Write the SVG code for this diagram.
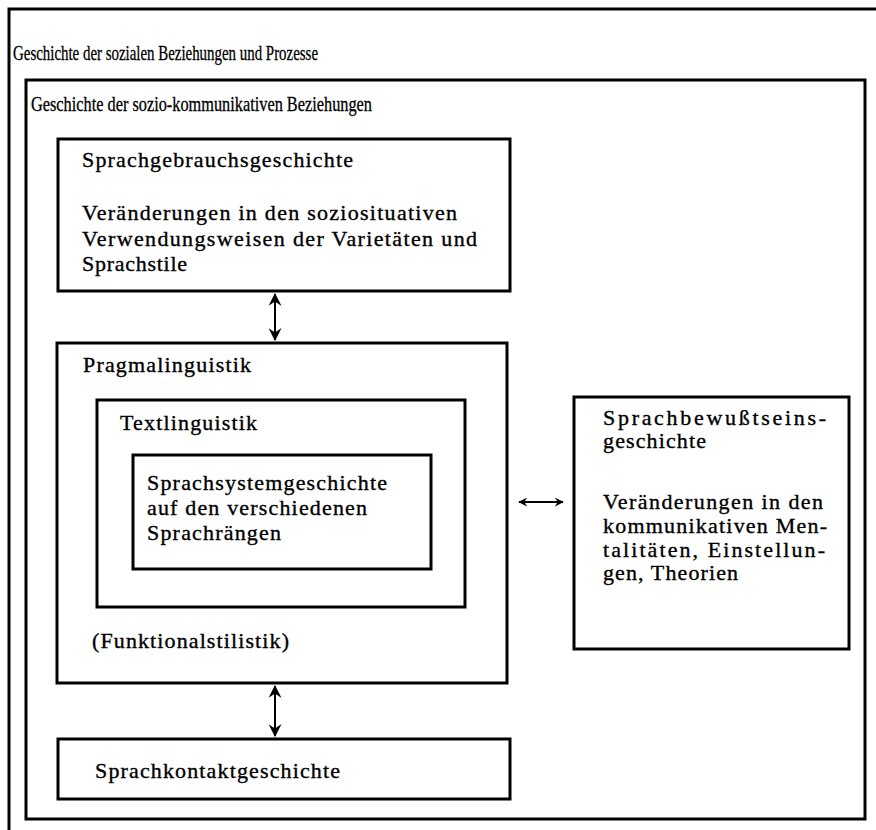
<svg xmlns="http://www.w3.org/2000/svg" width="876" height="830" viewBox="0 0 876 830">
<style>
.box{fill:none;stroke:#000;stroke-width:3}
.t{font-family:"Liberation Serif","Times New Roman",serif;font-size:22px;fill:#000;stroke:#000;stroke-width:0.35}
.h{font-family:"Liberation Serif","Times New Roman",serif;font-size:21px;fill:#000;stroke:#000;stroke-width:0.3}
.c{stroke:#000;stroke-width:2;fill:none}
</style>
<defs>
<marker id="ah" viewBox="0 0 12 12" refX="11" refY="6" markerWidth="13" markerHeight="13" markerUnits="userSpaceOnUse" orient="auto-start-reverse">
<path d="M0,0 L12,6 L0,12 L4,6 z" fill="#000"/>
</marker>
<marker id="ahs" viewBox="0 0 12 12" refX="11" refY="6" markerWidth="9" markerHeight="9" markerUnits="userSpaceOnUse" orient="auto-start-reverse">
<path d="M0,0 L12,6 L0,12 L4,6 z" fill="#000"/>
</marker>
</defs>
<rect width="876" height="830" fill="#fff"/>
<g id="outer">
<path class="box" d="M880,9 L9,9 L9,835"/>
<text class="h" x="13" y="60" textLength="305" lengthAdjust="spacingAndGlyphs">Geschichte der sozialen Beziehungen und Prozesse</text>
</g>
<g id="sozio">
<rect class="box" x="26" y="80" width="839" height="739"/>
<text class="h" x="31" y="111" textLength="341" lengthAdjust="spacingAndGlyphs">Geschichte der sozio-kommunikativen Beziehungen</text>
</g>
<g id="sprachgebrauch">
<rect class="box" x="58" y="139" width="452" height="152"/>
<text class="t" x="82" y="167" textLength="271" lengthAdjust="spacing">Sprachgebrauchsgeschichte</text>
<text class="t" x="82" y="220" textLength="375" lengthAdjust="spacing">Veränderungen in den soziosituativen</text>
<text class="t" x="82" y="246" textLength="395" lengthAdjust="spacing">Verwendungsweisen der Varietäten und</text>
<text class="t" x="82" y="271" textLength="105" lengthAdjust="spacing">Sprachstile</text>
</g>
<g id="pragmalinguistik">
<rect class="box" x="57" y="343" width="450" height="340"/>
<text class="t" x="83" y="372" textLength="168" lengthAdjust="spacing">Pragmalinguistik</text>
<text class="t" x="92" y="648" textLength="197" lengthAdjust="spacing">(Funktionalstilistik)</text>
</g>
<g id="textlinguistik">
<rect class="box" x="97" y="400" width="368" height="207"/>
<text class="t" x="120" y="430" textLength="137" lengthAdjust="spacing">Textlinguistik</text>
</g>
<g id="sprachsystem">
<rect class="box" x="133" y="455" width="298" height="114"/>
<text class="t" x="147" y="490" textLength="240" lengthAdjust="spacing">Sprachsystemgeschichte</text>
<text class="t" x="147" y="515" textLength="220" lengthAdjust="spacing">auf den verschiedenen</text>
<text class="t" x="147" y="540" textLength="134" lengthAdjust="spacing">Sprachrängen</text>
</g>
<g id="sprachkontakt">
<rect class="box" x="58" y="739" width="452" height="60"/>
<text class="t" x="95" y="778" textLength="245" lengthAdjust="spacing">Sprachkontaktgeschichte</text>
</g>
<g id="sprachbewusstsein">
<rect class="box" x="574" y="397" width="275" height="252"/>
<text class="t" x="603" y="425" textLength="223" lengthAdjust="spacing">Sprachbewußtseins-</text>
<text class="t" x="603" y="448" textLength="103" lengthAdjust="spacing">geschichte</text>
<text class="t" x="603" y="509" textLength="220" lengthAdjust="spacing">Veränderungen in den</text>
<text class="t" x="603" y="533" textLength="224" lengthAdjust="spacing">kommunikativen Men-</text>
<text class="t" x="603" y="557" textLength="222" lengthAdjust="spacing">talitäten, Einstellun-</text>
<text class="t" x="603" y="580" textLength="135" lengthAdjust="spacing">gen, Theorien</text>
</g>
<g id="connectors">
<line class="c" x1="275" y1="294" x2="275" y2="340" marker-start="url(#ah)" marker-end="url(#ah)"/>
<line class="c" x1="275" y1="686" x2="275" y2="736" marker-start="url(#ah)" marker-end="url(#ah)"/>
<line class="c" x1="519" y1="502" x2="563" y2="502" marker-start="url(#ahs)" marker-end="url(#ahs)"/>
</g>
</svg>
